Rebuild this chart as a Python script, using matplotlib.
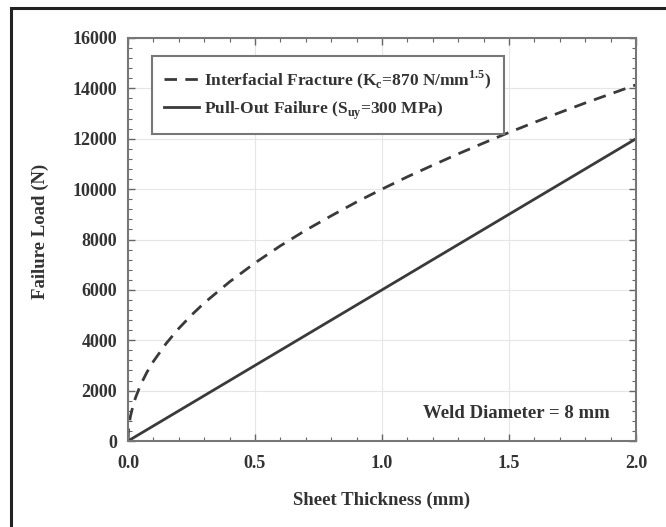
import matplotlib
matplotlib.use("Agg")
import matplotlib.pyplot as plt
from matplotlib.ticker import MultipleLocator, FormatStrFormatter
from matplotlib.patches import Rectangle

thickness_if = [0.0, 0.002, 0.005, 0.01, 0.02, 0.03, 0.05, 0.075, 0.1, 0.15,
                0.2, 0.25, 0.3, 0.4, 0.5, 0.6, 0.7, 0.8, 0.9, 1.0, 1.1, 1.2,
                1.3, 1.4, 1.5, 1.6, 1.7, 1.8, 1.9, 2.0]
load_if = [0, 450, 710, 1000, 1410, 1730, 2240, 2740, 3160, 3870,
           4470, 5000, 5480, 6320, 7070, 7750, 8370, 8940, 9490, 10000,
           10490, 10950, 11400, 11830, 12250, 12650, 13040, 13420, 13780, 14140]
thickness_po = [0.0, 2.0]
load_po = [0, 12000]

label_if = r"Interfacial Fracture (K$_\mathbf{c}$=870 N/mm$^\mathbf{1.5}$)"
label_po = r"Pull-Out Failure (S$_\mathbf{uy}$=300 MPa)"

plt.rcParams['font.family'] = ['Liberation Serif', 'DejaVu Serif']
plt.rcParams['mathtext.fontset'] = 'custom'
plt.rcParams['mathtext.rm'] = 'Liberation Serif:bold'
plt.rcParams['mathtext.bf'] = 'Liberation Serif:bold'

fig = plt.figure(figsize=(6.66, 5.27), dpi=100)
W, H = 666, 527
ax = fig.add_axes([128 / W, 1 - 441 / H, (636 - 128) / W, (441 - 38) / H])

# outer frame
fig.patches.append(Rectangle((11 / W, -0.05), 1.2, 1 - 8 / H + 0.05,
                             transform=fig.transFigure, fill=False,
                             edgecolor='#222222', linewidth=2.2))

col = '#3a3a3a'
ax.plot(thickness_if, load_if, linestyle=(0, (4.5, 3)), color=col, lw=2.0,
        label=label_if)
ax.plot(thickness_po, load_po, linestyle='-', color=col, lw=2.0,
        label=label_po)

ax.set_xlim(0, 2.0)
ax.set_ylim(0, 16000)
ax.xaxis.set_major_locator(MultipleLocator(0.5))
ax.xaxis.set_minor_locator(MultipleLocator(0.1))
ax.yaxis.set_major_locator(MultipleLocator(2000))
ax.yaxis.set_minor_locator(MultipleLocator(400))
ax.xaxis.set_major_formatter(FormatStrFormatter('%.1f'))
ax.grid(True, which='major', color='#e6e6e6', lw=0.8)
ax.set_axisbelow(True)
ax.tick_params(which='both', direction='in', top=True, right=True,
               color='#666666')
ax.tick_params(which='major', length=5, width=1, labelsize=13, pad=8,
               labelcolor='#333333')
ax.tick_params(axis='x', which='major', pad=10)
ax.tick_params(which='minor', length=3, width=0.8)
for lbl in ax.get_xticklabels() + ax.get_yticklabels():
    lbl.set_fontweight('bold')
for s in ax.spines.values():
    s.set_color('#777777')
    s.set_linewidth(1.5)

ax.set_xlabel('Sheet Thickness (mm)', fontsize=13.5, fontweight='bold',
              color='#333333', va='center')
ax.xaxis.set_label_coords(0.5, (441 - 500) / 403)
ax.set_ylabel('Failure Load (N)', fontsize=13.5, fontweight='bold',
              color='#333333', va='center')
ax.yaxis.set_label_coords((40 - 128) / 508, 0.52)

leg = ax.legend(loc='upper left', bbox_to_anchor=(152 / W, 1 - 56 / H),
                bbox_transform=fig.transFigure,
                fancybox=False, edgecolor='#777777', framealpha=1,
                prop={'weight': 'bold', 'size': 12.5}, handlelength=2.0,
                borderpad=0.7, labelspacing=0.5, handletextpad=0.3,
                borderaxespad=0)
leg.get_frame().set_linewidth(1.5)
for t in leg.get_texts():
    t.set_color('#333333')

ax.text((610 - 128) / 508, (441 - 414) / 403, 'Weld Diameter = 8 mm',
        transform=ax.transAxes, ha='right', va='center', fontsize=13.5,
        fontweight='bold', color='#333333')

fig.savefig('out.png', dpi=100)
